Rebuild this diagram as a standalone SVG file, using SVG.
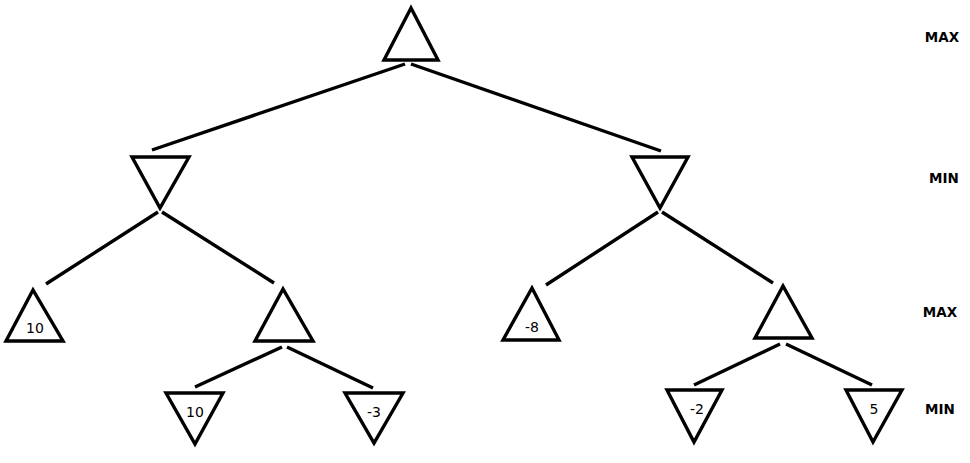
<svg xmlns="http://www.w3.org/2000/svg" width="970" height="463" viewBox="0 0 970 463">
<style>
.t{fill:none;stroke:#000;stroke-width:3.4;stroke-linejoin:miter}
.e{stroke:#000;stroke-width:3.4;stroke-linecap:butt}
.v{font-family:"DejaVu Sans",sans-serif;font-size:14px;fill:#000;text-anchor:middle}
.l{font-family:"DejaVu Sans",sans-serif;font-size:13.5px;font-weight:bold;fill:#000;text-anchor:middle}
</style>
<rect width="970" height="463" fill="#fff"/>
<g id="connectors">
<line class="e" x1="405" y1="64" x2="152" y2="150"/>
<line class="e" x1="411" y1="64" x2="661" y2="151"/>
<line class="e" x1="158" y1="212" x2="46" y2="284"/>
<line class="e" x1="162" y1="212" x2="274" y2="283"/>
<line class="e" x1="658" y1="212" x2="546" y2="285"/>
<line class="e" x1="662" y1="212" x2="773" y2="283"/>
<line class="e" x1="282" y1="347" x2="195" y2="387"/>
<line class="e" x1="287" y1="347" x2="373" y2="388"/>
<line class="e" x1="780" y1="344" x2="694" y2="385"/>
<line class="e" x1="786" y1="344" x2="872" y2="385"/>
</g>
<g id="root"><polygon class="t" points="411,8 384,60 438,60"/></g>
<g id="min-left"><polygon class="t" points="132,157 189,157 160,208"/></g>
<g id="min-right"><polygon class="t" points="632,157 688,157 660,208"/></g>
<g id="max-10"><polygon class="t" points="33,290 6,341 63,341"/><text class="v" x="35" y="333">10</text></g>
<g id="max-left2"><polygon class="t" points="283,289 255,341 313,341"/></g>
<g id="max-m8"><polygon class="t" points="532,288 503,340 559,340"/><text class="v" x="532" y="332">-8</text></g>
<g id="max-right2"><polygon class="t" points="783,286 755,338 812,338"/></g>
<g id="min-10"><polygon class="t" points="166,393 223,393 195,444"/><text class="v" x="195" y="417">10</text></g>
<g id="min-m3"><polygon class="t" points="345,393 403,393 374,443"/><text class="v" x="374" y="417">-3</text></g>
<g id="min-m2"><polygon class="t" points="667,390 722,390 694,442"/><text class="v" x="697" y="414">-2</text></g>
<g id="min-5"><polygon class="t" points="846,390 902,390 873,442"/><text class="v" x="874" y="414">5</text></g>
<g id="labels">
<text class="l" x="942" y="42">MAX</text>
<text class="l" x="944" y="183">MIN</text>
<text class="l" x="940" y="317">MAX</text>
<text class="l" x="940" y="414">MIN</text>
</g>
</svg>
